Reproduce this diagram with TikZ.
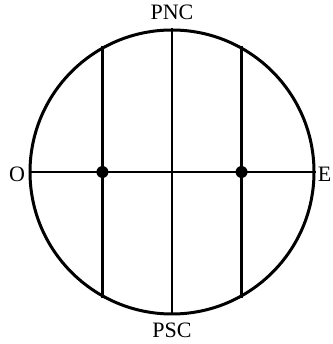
\documentclass[tikz,border=0pt]{standalone}
\usepackage{fontspec}
\setmainfont{Liberation Serif}
\usetikzlibrary{positioning}

\begin{document}
\begin{tikzpicture}[
  x=1pt, y=1pt,
  every node/.style={font=\fontsize{22}{26}\selectfont},
  rim/.style={draw, circle, line width=3pt, minimum size=284pt, inner sep=0pt},
  chord/.style={line width=2.2pt},
  dot/.style={fill, circle, minimum size=12pt, inner sep=0pt},
  lbl/.style={anchor=base, inner sep=0pt},
]
\useasboundingbox (0,0) rectangle (332,344);

\node[rim] (sky) at (172,172) {};

\node[lbl] (pnc) at (172,324) {PNC};
\node[lbl] (psc) at (172,6) {PSC};
\node[lbl] (west) at (17,162) {O};
\node[lbl, anchor=base east] (east) at (331.5,162) {E};

\draw[chord] (sky.west) -- (sky.east);
\draw[chord] (sky.north) -- (sky.south);
\draw[chord] (sky.119) -- (sky.241);
\draw[chord] (sky.61) -- (sky.299);

\node[dot] (left) at (sky.119 |- sky.center) {};
\node[dot] (right) at (sky.61 |- sky.center) {};

\end{tikzpicture}
\end{document}
